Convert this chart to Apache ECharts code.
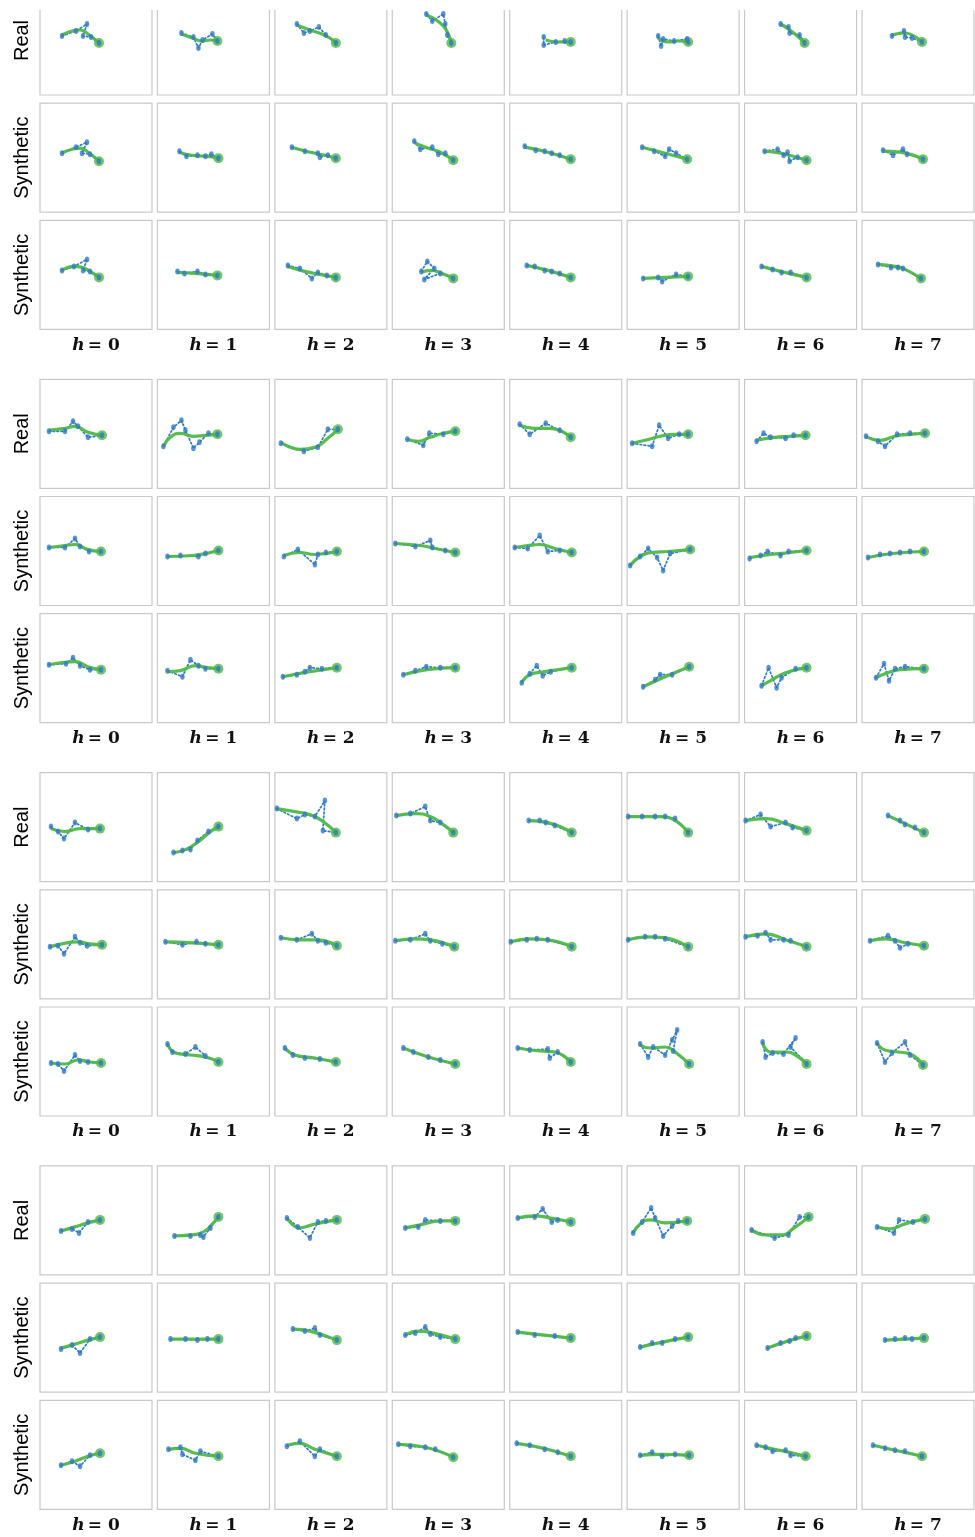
<!DOCTYPE html>
<html><head><meta charset="utf-8">
<script src="https://cdn.jsdelivr.net/npm/echarts@6/dist/echarts.min.js"></script>
<style>html,body{margin:0;padding:0;background:#fff}#c{width:975px;height:1537px}</style>
</head><body><div id="c"></div>
<script>
// ---- labels ----
const hValues = [0, 1, 2, 3, 4, 5, 6, 7];
const rowKinds = ['Real', 'Synthetic', 'Synthetic'];

// ---- data: per panel [x, y] offsets (x right, y up), 8 panels per row ----
// Block 1
const blueB1R1 = [
 [[-38,6],[-24,11],[-13,18],[-17,6],[-9,5],[-1,-1]],
 [[-36,9],[-24,5],[-19,-6],[-15,2],[-5,8],[0,1]],
 [[-38,18],[-31,9],[-25,11],[-16,15],[-9,7],[1,-1]],
 [[-26,28],[-20,21],[-9,28],[-7,18],[-5,7],[-1,-1]],
 [[-26,5],[-26,-3],[-14,0],[-5,1],[1,0]],
 [[-29,6],[-26,-4],[-24,3],[-13,1],[0,3],[1,0]],
 [[-24,18],[-16,15],[-15,9],[-5,7],[0,-1]],
 [[-30,6],[-18,11],[-17,5],[-10,4],[0,0]]
];
const greenB1R1 = [
 [[-38,7],[-28,11],[-20,12],[-12,8],[-1,-1]],
 [[-36,8],[-25,4],[-15,1],[-7,2],[0,1]],
 [[-38,17],[-25,12],[-13,8],[-5,4],[1,-1]],
 [[-26,27],[-16,22],[-9,16],[-4,8],[-1,-1]],
 [[-24,2],[-12,0],[1,0]],
 [[-29,4],[-19,0],[-9,1],[1,0]],
 [[-24,18],[-12,10],[0,-1]],
 [[-30,7],[-18,9],[0,0]]
];
const blueB1R2 = [
 [[-38,6],[-24,12],[-13,17],[-18,6],[-10,5],[-1,-2]],
 [[-38,8],[-31,3],[-20,4],[-12,3],[-6,5],[1,1]],
 [[-43,12],[-30,8],[-17,6],[-15,2],[-7,4],[1,1]],
 [[-38,18],[-32,10],[-20,12],[-14,5],[-7,6],[1,-1]],
 [[-45,13],[-34,9],[-25,8],[-18,6],[-10,4],[1,0]],
 [[-45,12],[-33,8],[-22,3],[-18,10],[-11,6],[0,0]],
 [[-40,8],[-27,10],[-21,4],[-17,7],[-15,-2],[-7,2],[2,-1]],
 [[-39,9],[-29,4],[-19,10],[-15,5],[1,0]]
];
const greenB1R2 = [
 [[-38,6],[-28,10],[-20,11],[-12,7],[-1,-2]],
 [[-38,7],[-27,4],[-12,3],[1,1]],
 [[-43,12],[-25,7],[-10,4],[1,1]],
 [[-37,16],[-24,11],[-12,7],[1,-1]],
 [[-45,12],[-22,7],[1,0]],
 [[-45,12],[-22,6],[0,0]],
 [[-40,8],[-24,6],[2,-1]],
 [[-39,8],[-22,7],[1,0]]
];
const blueB1R3 = [
 [[-38,6],[-26,10],[-13,17],[-17,6],[-10,5],[-1,-1]],
 [[-40,5],[-33,3],[-20,5],[-12,2],[0,1]],
 [[-47,11],[-35,8],[-23,-2],[-17,4],[-8,1],[1,-1]],
 [[-31,5],[-25,15],[-18,8],[-28,-3],[-12,3],[1,-2]],
 [[-43,11],[-35,10],[-25,6],[-18,5],[-10,3],[1,-1]],
 [[-44,-2],[-29,-1],[-25,-5],[-11,2],[1,0]],
 [[-43,10],[-32,7],[-23,4],[-14,4],[2,-1]],
 [[-44,12],[-31,9],[-24,9],[-19,8],[-1,-2]]
];
const greenB1R3 = [
 [[-38,6],[-26,10],[-18,9],[-10,5],[-1,-1]],
 [[-40,4],[-22,3],[0,1]],
 [[-47,10],[-30,5],[-15,2],[1,-1]],
 [[-31,4],[-22,6],[-10,3],[1,-2]],
 [[-43,11],[-22,6],[1,-1]],
 [[-44,-2],[-22,-1],[1,0]],
 [[-43,10],[-20,4],[2,-1]],
 [[-44,12],[-27,10],[-17,7],[-1,-2]]
];
// Block 2
const blueB2R1 = [
 [[-51,4],[-35,4],[-27,14],[-22,9],[-12,-2],[2,0]],
 [[-54,-11],[-44,8],[-36,15],[-32,5],[-24,-13],[-18,-7],[-9,2],[0,1]],
 [[-54,-8],[-31,-16],[-17,-12],[-7,6],[3,6]],
 [[-45,-4],[-29,-10],[-23,2],[-9,1],[3,4]],
 [[-50,11],[-40,1],[-24,12],[-10,5],[1,-2]],
 [[-55,-8],[-35,-11],[-28,10],[-19,-3],[-8,1],[1,1]],
 [[-48,-6],[-41,2],[-34,-2],[-19,-3],[-11,0],[1,0]],
 [[-56,-1],[-44,-6],[-37,-11],[-25,1],[-12,2],[3,2]]
];
const greenB2R1 = [
 [[-51,5],[-35,7],[-25,9],[-12,3],[2,0]],
 [[-54,-11],[-47,-2],[-37,2],[-24,-1],[-12,0],[0,1]],
 [[-54,-7],[-35,-14],[-20,-12],[-7,-3],[3,6]],
 [[-45,-4],[-34,-6],[-22,-2],[-9,2],[3,4]],
 [[-50,10],[-35,7],[-20,7],[-8,4],[1,-2]],
 [[-55,-8],[-42,-5],[-27,-1],[-12,1],[1,1]],
 [[-48,-5],[-30,-2],[-15,-1],[1,0]],
 [[-56,-1],[-42,-5],[-27,-1],[-12,1],[3,2]]
];
const blueB2R2 = [
 [[-51,5],[-35,5],[-25,14],[-20,6],[-11,1],[1,1]],
 [[-50,-4],[-37,-3],[-19,-4],[-12,-1],[1,2]],
 [[-51,-4],[-37,3],[-20,-12],[-17,-2],[-9,0],[2,1]],
 [[-57,9],[-37,6],[-22,12],[-20,5],[-7,2],[3,0]],
 [[-55,5],[-42,4],[-30,17],[-22,1],[-10,2],[2,0]],
 [[-57,-13],[-47,-4],[-39,4],[-30,-5],[-24,-18],[-17,-1],[3,3]],
 [[-55,-6],[-44,-3],[-37,1],[-24,-3],[-16,1],[2,2]],
 [[-54,-5],[-42,-2],[-32,-1],[-22,0],[-12,1],[2,1]]
];
const greenB2R2 = [
 [[-51,5],[-35,7],[-25,8],[-12,3],[1,1]],
 [[-50,-4],[-25,-3],[1,2]],
 [[-51,-3],[-35,0],[-20,-2],[2,1]],
 [[-57,9],[-32,7],[-12,3],[3,0]],
 [[-55,5],[-42,7],[-30,8],[-15,4],[2,0]],
 [[-57,-13],[-47,-4],[-35,0],[-19,1],[3,3]],
 [[-55,-5],[-34,-2],[-14,0],[2,2]],
 [[-54,-5],[-30,-1],[2,1]]
];
const blueB2R3 = [
 [[-51,5],[-34,6],[-27,12],[-20,4],[-10,0],[1,0]],
 [[-50,-1],[-35,-7],[-27,10],[-19,4],[-12,1],[1,1]],
 [[-52,-7],[-38,-5],[-30,-2],[-25,2],[-13,1],[2,2]],
 [[-49,-5],[-37,-1],[-26,3],[-12,2],[3,2]],
 [[-48,-13],[-40,-4],[-33,4],[-27,-6],[-19,-2],[2,2]],
 [[-44,-17],[-32,-10],[-27,-5],[-15,-5],[2,3]],
 [[-43,-16],[-36,2],[-28,-18],[-23,-8],[-9,1],[2,2]],
 [[-46,-8],[-38,6],[-33,-11],[-27,1],[-17,3],[2,1]]
];
const greenB2R3 = [
 [[-51,5],[-38,7],[-25,8],[-12,3],[1,0]],
 [[-50,-2],[-37,-1],[-22,4],[-10,2],[1,1]],
 [[-52,-7],[-25,-2],[2,2]],
 [[-49,-5],[-25,0],[3,2]],
 [[-48,-13],[-40,-5],[-25,-2],[2,2]],
 [[-44,-17],[-22,-7],[2,3]],
 [[-43,-16],[-34,-11],[-19,-3],[2,2]],
 [[-46,-8],[-37,-4],[-22,0],[2,1]]
];
// Block 3
const blueB3R1 = [
 [[-49,2],[-42,-3],[-36,-10],[-25,6],[-12,-1],[0,0]],
 [[-44,-24],[-35,-22],[-27,-21],[-20,-12],[-9,-3],[1,2]],
 [[-58,20],[-38,10],[-30,14],[-20,12],[-10,28],[-12,-2],[1,-4]],
 [[-56,13],[-42,15],[-27,22],[-22,8],[-12,6],[1,-4]],
 [[-41,8],[-30,8],[-24,6],[-15,3],[2,-4]],
 [[-59,12],[-45,12],[-32,12],[-22,12],[-12,10],[1,-4]],
 [[-59,8],[-44,14],[-34,2],[-19,6],[-12,1],[2,-2]],
 [[-34,13],[-22,8],[-17,4],[-7,1],[2,-4]]
];
const greenB3R1 = [
 [[-49,0],[-35,-3],[-20,0],[0,0]],
 [[-44,-24],[-32,-21],[-19,-13],[-7,-3],[1,2]],
 [[-58,20],[-40,17],[-25,14],[-13,8],[1,-4]],
 [[-56,13],[-37,15],[-22,12],[-9,4],[1,-4]],
 [[-41,8],[-22,6],[2,-4]],
 [[-59,12],[-27,12],[-12,8],[1,-4]],
 [[-59,8],[-39,10],[-19,5],[2,-2]],
 [[-34,13],[-17,5],[2,-4]]
];
const blueB3R2 = [
 [[-50,-1],[-42,0],[-36,-8],[-25,9],[-20,3],[-13,0],[2,1]],
 [[-52,4],[-35,1],[-21,4],[-12,2],[1,1]],
 [[-54,8],[-38,6],[-23,12],[-17,5],[-9,3],[2,0]],
 [[-57,5],[-42,6],[-27,12],[-22,5],[-10,2],[2,-1]],
 [[-59,4],[-43,6],[-33,7],[-22,6],[2,-1]],
 [[-59,6],[-42,9],[-32,9],[-22,7],[1,-1]],
 [[-59,9],[-47,10],[-39,13],[-34,6],[-21,6],[-14,5],[2,-1]],
 [[-52,5],[-34,10],[-27,5],[-22,-2],[-14,2],[2,0]]
];
const greenB3R2 = [
 [[-50,-1],[-38,2],[-22,4],[-10,2],[2,1]],
 [[-52,4],[-25,3],[1,1]],
 [[-54,8],[-35,6],[-17,6],[2,0]],
 [[-57,5],[-37,7],[-22,6],[2,-1]],
 [[-59,4],[-40,7],[-22,6],[2,-1]],
 [[-59,6],[-40,9],[-22,8],[1,-1]],
 [[-59,9],[-39,12],[-19,6],[2,-1]],
 [[-52,5],[-37,7],[-17,3],[2,0]]
];
const blueB3R3 = [
 [[-49,0],[-42,-1],[-36,-8],[-25,8],[-20,2],[-12,1],[1,0]],
 [[-50,19],[-45,11],[-32,9],[-22,16],[-12,7],[1,1]],
 [[-50,15],[-42,8],[-30,5],[-15,4],[1,1]],
 [[-49,15],[-39,11],[-24,6],[-12,3],[3,-1]],
 [[-52,15],[-40,13],[-22,14],[-20,5],[-12,11],[1,1]],
 [[-47,19],[-39,6],[-34,16],[-22,8],[-15,23],[-10,33],[-14,12],[2,-1]],
 [[-42,21],[-39,6],[-32,10],[-21,9],[-9,25],[-14,16],[2,-1]],
 [[-45,20],[-37,1],[-30,10],[-17,21],[-12,8],[1,-2]]
];
const greenB3R3 = [
 [[-49,0],[-35,-1],[-22,3],[-10,1],[1,0]],
 [[-50,19],[-42,10],[-27,8],[-12,6],[1,1]],
 [[-50,15],[-40,8],[-20,5],[1,1]],
 [[-49,15],[-24,6],[3,-1]],
 [[-52,15],[-30,12],[-15,11],[1,1]],
 [[-47,18],[-37,15],[-22,16],[-12,11],[2,-1]],
 [[-42,20],[-34,11],[-19,11],[-9,8],[2,-1]],
 [[-45,20],[-37,13],[-24,11],[-12,9],[1,-2]]
];
// Block 4
const blueB4R1 = [
 [[-39,-9],[-28,-7],[-21,-11],[-12,0],[0,2]],
 [[-43,-14],[-27,-14],[-17,-13],[-14,-15],[-7,-6],[1,5]],
 [[-48,4],[-37,-5],[-25,-16],[-17,0],[-9,1],[2,2]],
 [[-47,-6],[-34,-5],[-27,2],[-12,1],[3,1]],
 [[-52,4],[-35,5],[-27,13],[-18,0],[-12,2],[1,0]],
 [[-54,-11],[-45,0],[-36,14],[-32,4],[-24,-14],[-15,-4],[-9,1],[0,1]],
 [[-53,-8],[-30,-16],[-16,-13],[-5,5],[4,5]],
 [[-45,-5],[-28,-11],[-23,2],[-9,0],[3,3]]
];
const greenB4R1 = [
 [[-39,-9],[-25,-5],[-12,-1],[0,2]],
 [[-43,-14],[-27,-13],[-14,-10],[-5,-2],[1,5]],
 [[-48,4],[-35,-6],[-23,-3],[-10,0],[2,2]],
 [[-47,-6],[-32,-3],[-12,1],[3,1]],
 [[-52,4],[-35,6],[-20,4],[1,0]],
 [[-54,-11],[-47,-2],[-37,2],[-22,-1],[0,1]],
 [[-53,-8],[-39,-13],[-24,-13],[-9,-5],[4,5]],
 [[-45,-5],[-32,-7],[-17,-2],[3,3]]
];
const blueB4R2 = [
 [[-39,-10],[-28,-6],[-20,-14],[-10,0],[0,2]],
 [[-47,0],[-32,0],[-20,-1],[-10,0],[1,0]],
 [[-42,10],[-30,8],[-20,11],[-15,4],[2,-1]],
 [[-47,4],[-37,6],[-27,12],[-22,5],[-12,2],[3,0]],
 [[-52,7],[-35,4],[-15,3],[1,1]],
 [[-47,-8],[-35,-4],[-25,-4],[-12,0],[1,2]],
 [[-37,-9],[-24,-4],[-15,-2],[-9,1],[2,3]],
 [[-37,-1],[-27,0],[-17,1],[-10,0],[2,1]]
];
const greenB4R2 = [
 [[-39,-9],[-25,-5],[-12,-1],[0,2]],
 [[-47,0],[-23,0],[1,0]],
 [[-42,10],[-25,8],[2,-1]],
 [[-47,4],[-34,8],[-19,6],[3,0]],
 [[-52,7],[-25,4],[1,1]],
 [[-47,-8],[-25,-3],[1,2]],
 [[-37,-9],[-17,-2],[2,3]],
 [[-37,-1],[-17,0],[2,1]]
];
const blueB4R3 = [
 [[-39,-9],[-28,-5],[-20,-10],[-10,1],[0,3]],
 [[-49,7],[-37,9],[-35,2],[-22,-4],[-17,5],[1,0]],
 [[-48,10],[-35,15],[-20,0],[-15,7],[2,0]],
 [[-54,12],[-42,10],[-27,9],[-17,7],[1,-1]],
 [[-53,13],[-40,11],[-25,7],[-12,4],[1,0]],
 [[-47,1],[-35,4],[-25,0],[-12,2],[2,1]],
 [[-48,11],[-39,9],[-32,5],[-19,6],[-14,1],[1,0]],
 [[-49,11],[-37,8],[-27,6],[-17,5],[0,0]]
];
const greenB4R3 = [
 [[-39,-9],[-25,-5],[-12,0],[0,3]],
 [[-49,7],[-37,8],[-22,3],[1,0]],
 [[-48,11],[-35,13],[-20,7],[2,0]],
 [[-54,12],[-27,9],[1,-1]],
 [[-53,13],[-26,8],[1,0]],
 [[-47,1],[-25,2],[2,1]],
 [[-48,11],[-30,7],[-15,4],[1,0]],
 [[-49,11],[-27,6],[0,0]]
];

const blueRows = [blueB1R1, blueB1R2, blueB1R3, blueB2R1, blueB2R2, blueB2R3,
                  blueB3R1, blueB3R2, blueB3R3, blueB4R1, blueB4R2, blueB4R3];
const greenRows = [greenB1R1, greenB1R2, greenB1R3, greenB2R1, greenB2R2, greenB2R3,
                   greenB3R1, greenB3R2, greenB3R3, greenB4R1, greenB4R2, greenB4R3];

// ---- layout ----
const PW = 112, PH = 109;
const Y_MIN = -53, Y_MAX = 56;
const colLeft = i => 40 + i * 117.43;
const rowTop = (b, r) => -14 + b * 393.3 + r * 117.2;
const BLUE = '#3279c3', GREEN = '#4fb848';

const grid = [], xAxis = [], yAxis = [], series = [], graphic = [];
let gi = 0;
for (let b = 0; b < 4; b++) {
  for (let r = 0; r < 3; r++) {
    const rowIdx = b * 3 + r;
    const fullTop = rowTop(b, r);
    // the first row is cut by the top edge of the picture
    const cut = fullTop < 0 ? -fullTop : 0;
    const top = fullTop + cut, h = PH - cut;
    for (let c = 0; c < 8; c++) {
      grid.push({left: colLeft(c), top: top, width: PW, height: h, show: true,
                 outerBoundsMode: 'none', containLabel: false,
                 borderColor: '#c9c9c9', borderWidth: 1.2, backgroundColor: '#fff'});
      xAxis.push({gridIndex: gi, type: 'value', min: -60, max: 52, show: false});
      yAxis.push({gridIndex: gi, type: 'value', min: Y_MIN, max: Y_MAX - cut, show: false});
      const bl = blueRows[rowIdx][c];
      const gr = greenRows[rowIdx][c];
      series.push({type: 'line', xAxisIndex: gi, yAxisIndex: gi, data: bl, symbol: 'none', z: 2,
        silent: true, animation: false,
        lineStyle: {color: BLUE, width: 1.7, type: [1.6, 2.4], cap: 'round'}});
      series.push({type: 'line', xAxisIndex: gi, yAxisIndex: gi, data: gr, symbol: 'none', z: 3,
        smooth: 0.5, silent: true, animation: false,
        lineStyle: {color: GREEN, width: 3.2, opacity: 0.95}});
      series.push({type: 'scatter', xAxisIndex: gi, yAxisIndex: gi, data: [gr[gr.length - 1]], z: 4,
        symbol: 'circle', symbolSize: 10, silent: true, animation: false,
        itemStyle: {color: GREEN}});
      series.push({type: 'scatter', xAxisIndex: gi, yAxisIndex: gi, data: bl, z: 5,
        symbol: 'circle', symbolSize: [4.5, 6], silent: true, animation: false,
        itemStyle: {color: BLUE}});
      gi++;
    }
    // row label
    graphic.push({type: 'text', z: 50, x: 22, y: fullTop + PH / 2, rotation: Math.PI / 2,
      style: {text: rowKinds[r], fill: '#000', font: '20px "Liberation Sans", Arial, sans-serif',
              align: 'center', verticalAlign: 'middle'}});
  }
  // column labels
  const yLab = rowTop(b, 2) + PH + 16;
  for (let c = 0; c < 8; c++) {
    graphic.push({type: 'text', z: 50, x: colLeft(c) + PW / 2, y: yLab,
      style: {text: '{i|h} {n|= ' + hValues[c] + '}', align: 'center', verticalAlign: 'middle',
        rich: {
          i: {font: 'italic bold 17px "DejaVu Serif", serif', fill: '#111'},
          n: {font: 'bold 17px "DejaVu Serif", serif', fill: '#111'}
        }}});
  }
}
// cropped top band
graphic.push({type: 'rect', z: 100, shape: {x: 0, y: 0, width: 975, height: 10}, style: {fill: '#fff'}});

const chart = echarts.init(document.getElementById('c'), null, {renderer: 'canvas'});
chart.setOption({animation: false, grid, xAxis, yAxis, series, graphic});
</script></body></html>
